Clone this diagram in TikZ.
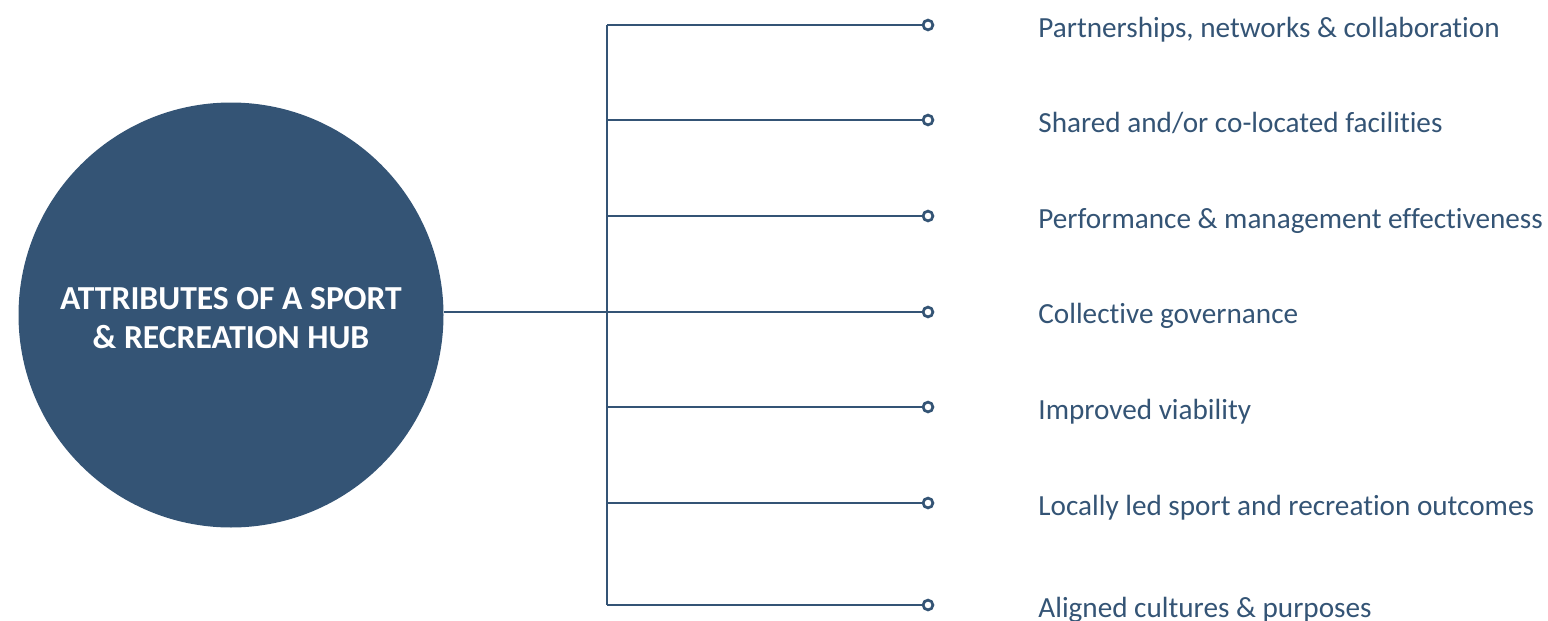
\documentclass[tikz,border=0pt]{standalone}
\usepackage{fontspec}
\setmainfont{Carlito}[Ligatures={NoCommon}]
\usetikzlibrary{positioning}
\definecolor{hubblue}{RGB}{52,84,117}

\begin{document}
\begin{tikzpicture}[x=0.5pt,y=-0.5pt]
\tikzset{link/.style={draw=hubblue,line width=1.45pt},
         tip/.style={circle,draw=hubblue,line width=1.35pt,fill=white,inner sep=0pt,minimum size=4.9pt},
         item/.style={anchor=base west,text=hubblue,inner sep=0pt,font=\fontsize{14.6}{17}\selectfont}}
\useasboundingbox (0,0) rectangle (1548,621);
\begin{scope}
    \node[circle,fill=hubblue,inner sep=0pt,minimum size=212.5pt] (hub) at (231,315) {};
    \node[text=white,align=center,font=\bfseries\fontsize{16.8}{19.5}\selectfont] (title) at (231,318) {ATTRIBUTES OF A SPORT\\ \& RECREATION HUB};

    \coordinate (j1) at (607,25);
    \coordinate (j2) at (607,120);
    \coordinate (j3) at (607,216);
    \coordinate (j4) at (607,312);
    \coordinate (j5) at (607,407);
    \coordinate (j6) at (607,503);
    \coordinate (j7) at (607,605);

    \node[tip] (e1) at (928,25) {};
    \node[tip] (e2) at (928,120) {};
    \node[tip] (e3) at (928,216) {};
    \node[tip] (e4) at (928,312) {};
    \node[tip] (e5) at (928,407) {};
    \node[tip] (e6) at (928,503) {};
    \node[tip] (e7) at (928,605) {};

    \node[item] (t1) at (1038,37) {Partnerships, networks \& collaboration};
    \node[item] (t2) at (1038,132) {Shared and/or co-located facilities};
    \node[item] (t3) at (1038,228) {Performance \& management effectiveness};
    \node[item] (t4) at (1038,323) {Collective governance};
    \node[item] (t5) at (1038,419) {Improved viability};
    \node[item] (t6) at (1038,515) {Locally led sport and recreation outcomes};
    \node[item] (t7) at (1038,617) {Aligned cultures \& purposes};

    \path [link] (hub.east |- j4) edge (j4);
    \path [link] (j1) edge (j7);
    \path [link] (j1) edge (e1);
    \path [link] (j2) edge (e2);
    \path [link] (j3) edge (e3);
    \path [link] (j4) edge (e4);
    \path [link] (j5) edge (e5);
    \path [link] (j6) edge (e6);
    \path [link] (j7) edge (e7);
\end{scope}
\end{tikzpicture}
\end{document}
